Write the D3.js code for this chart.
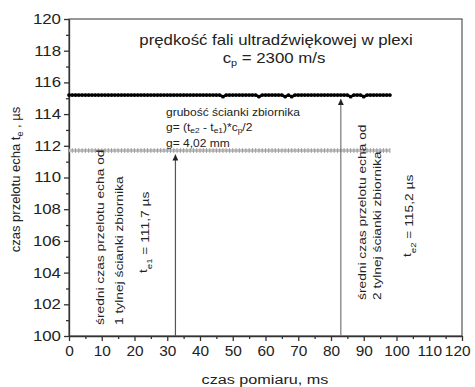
<!DOCTYPE html>
<html>
<head>
<meta charset="utf-8">
<script src="https://cdn.jsdelivr.net/npm/d3@7"></script>
<style>
  body { margin: 0; background: #fff; }
  svg { display: block; font-family: "Liberation Sans", Arial, sans-serif; }
</style>
</head>
<body>
<div id="chart"></div>
<script>
// ── Data ────────────────────────────────────────────────────────────────────
const timeMs = [
  0, 1, 2, 3, 4, 5, 6, 7, 8, 9, 10, 11, 12, 13, 14, 15, 16, 17, 18, 19,
  20, 21, 22, 23, 24, 25, 26, 27, 28, 29, 30, 31, 32, 33, 34, 35, 36, 37, 38, 39,
  40, 41, 42, 43, 44, 45, 46, 47, 48, 49, 50, 51, 52, 53, 54, 55, 56, 57, 58, 59,
  60, 61, 62, 63, 64, 65, 66, 67, 68, 69, 70, 71, 72, 73, 74, 75, 76, 77, 78, 79,
  80, 81, 82, 83, 84, 85, 86, 87, 88, 89, 90, 91, 92, 93, 94, 95, 96, 97, 98
];

// echo from 2nd back wall (t_e2), µs
const echo2 = [
  115.2, 115.2, 115.2, 115.2, 115.2, 115.2, 115.2, 115.2, 115.2, 115.2,
  115.2, 115.2, 115.2, 115.2, 115.2, 115.2, 115.2, 115.2, 115.2, 115.2,
  115.2, 115.2, 115.2, 115.2, 115.2, 115.2, 115.2, 115.2, 115.2, 115.2,
  115.2, 115.2, 115.2, 115.2, 115.2, 115.2, 115.2, 115.2, 115.2, 115.2,
  115.2, 115.2, 115.2, 115.2, 115.2, 115.2, 115.2, 115.1, 115.2, 115.2,
  115.2, 115.2, 115.2, 115.2, 115.2, 115.2, 115.2, 115.2, 115.1, 115.2,
  115.2, 115.2, 115.2, 115.2, 115.2, 115.2, 115.1, 115.2, 115.1, 115.2,
  115.2, 115.2, 115.2, 115.2, 115.2, 115.2, 115.2, 115.2, 115.2, 115.2,
  115.2, 115.2, 115.2, 115.2, 115.2, 115.2, 115.1, 115.2, 115.2, 115.2,
  115.1, 115.2, 115.2, 115.2, 115.2, 115.2, 115.2, 115.2, 115.2
];

// echo from 1st back wall (t_e1), µs
const echo1 = [
  111.7, 111.7, 111.7, 111.7, 111.7, 111.7, 111.7, 111.7, 111.7, 111.7,
  111.7, 111.7, 111.7, 111.7, 111.7, 111.7, 111.7, 111.7, 111.7, 111.7,
  111.7, 111.7, 111.7, 111.7, 111.7, 111.7, 111.7, 111.7, 111.7, 111.7,
  111.7, 111.7, 111.7, 111.7, 111.7, 111.7, 111.7, 111.7, 111.7, 111.7,
  111.7, 111.7, 111.7, 111.7, 111.7, 111.7, 111.7, 111.7, 111.7, 111.7,
  111.7, 111.7, 111.7, 111.7, 111.7, 111.7, 111.7, 111.7, 111.7, 111.7,
  111.7, 111.7, 111.7, 111.7, 111.7, 111.7, 111.7, 111.7, 111.7, 111.7,
  111.7, 111.7, 111.7, 111.7, 111.7, 111.7, 111.7, 111.7, 111.7, 111.7,
  111.7, 111.7, 111.7, 111.7, 111.7, 111.7, 111.7, 111.7, 111.7, 111.7,
  111.7, 111.7, 111.7, 111.7, 111.7, 111.7, 111.7, 111.7, 111.7
];

// arrows: [time, value the arrow points to]
const arrowEcho1 = [32.5, 111.7];
const arrowEcho2 = [83, 115.2];

const xTicks = [0, 10, 20, 30, 40, 50, 60, 70, 80, 90, 100, 110, 120];
const yTicks = [100, 102, 104, 106, 108, 110, 112, 114, 116, 118, 120];

// ── Layout ──────────────────────────────────────────────────────────────────
const width = 475, height = 387;
const margin = { top: 19, right: 13, bottom: 51, left: 69 };
const innerW = width - margin.left - margin.right;
const innerH = height - margin.top - margin.bottom;

// the original lettering is noticeably wider than Arial, so text is stretched sideways
const stretch = 1.2;
const xTickStretch = 1.1;

const svg = d3.select("#chart").append("svg").attr("width", width).attr("height", height);

const x = d3.scaleLinear().domain([0, 120]).range([margin.left, margin.left + innerW]);
const y = d3.scaleLinear().domain([100, 120]).range([margin.top + innerH, margin.top]);

const axisColor = "#333";
const textColor = "#222";

// ── Frame ───────────────────────────────────────────────────────────────────
svg.append("rect")
  .attr("x", x(0)).attr("y", y(120))
  .attr("width", x(120) - x(0)).attr("height", y(100) - y(120))
  .attr("fill", "none").attr("stroke", axisColor).attr("stroke-width", 1);

// ── Axes ────────────────────────────────────────────────────────────────────
function styleAxis(g, k) {
  g.select(".domain").attr("stroke", axisColor).attr("stroke-width", 1.3);
  g.selectAll(".tick line").attr("stroke", axisColor).attr("stroke-width", 1.3);
  g.selectAll(".tick text").attr("fill", textColor).attr("font-size", "14px")
    .attr("font-family", "Liberation Sans, Arial, sans-serif")
    .attr("transform", `scale(${k},1)`);
}

const xMinor = svg.append("g").attr("transform", `translate(0,${y(100)})`)
  .call(d3.axisBottom(x).tickValues(d3.range(5, 120, 10)).tickSize(3).tickFormat(""));
xMinor.select(".domain").remove();
xMinor.selectAll(".tick line").attr("stroke", axisColor).attr("stroke-width", 1.3);

const yMinor = svg.append("g").attr("transform", `translate(${x(0)},0)`)
  .call(d3.axisLeft(y).tickValues(d3.range(101, 120, 2)).tickSize(3).tickFormat(""));
yMinor.select(".domain").remove();
yMinor.selectAll(".tick line").attr("stroke", axisColor).attr("stroke-width", 1.3);

const xAxis = svg.append("g").attr("transform", `translate(0,${y(100)})`)
  .call(d3.axisBottom(x).tickValues(xTicks).tickSize(5).tickSizeOuter(0).tickPadding(5))
  .call(styleAxis, xTickStretch);

// last label sits flush with the right edge, as in the original
xAxis.selectAll(".tick text").filter(d => d === 120)
  .attr("text-anchor", "end").attr("x", 8 / xTickStretch);

svg.append("g").attr("transform", `translate(${x(0)},0)`)
  .call(d3.axisLeft(y).tickValues(yTicks).tickSize(5).tickSizeOuter(0).tickPadding(1.7))
  .call(styleAxis, stretch);

// text helper: anchor point (px, py), optional rotation, horizontal stretch
function stretchedText(px, py, size, anchor, rotate, k = stretch) {
  const rot = rotate ? ` rotate(${rotate})` : "";
  return svg.append("text")
    .attr("transform", `translate(${px},${py})${rot} scale(${k},1)`)
    .attr("text-anchor", anchor).attr("font-size", size).attr("fill", textColor);
}

// axis titles
stretchedText(265, 384, "13.5px", "middle").text("czas pomiaru, ms");

const yTitle = stretchedText(20, (y(100) + y(120)) / 2 + 2, "13px", "middle", -90, 1);
yTitle.append("tspan").text("czas przelotu echa t");
yTitle.append("tspan").attr("font-size", "9px").attr("dy", 3).text("e");
yTitle.append("tspan").attr("dy", -3).text(" , µs");

// ── Series ──────────────────────────────────────────────────────────────────
const echo1Points = timeMs.map((t, i) => [t, echo1[i]]);
const echo2Points = timeMs.map((t, i) => [t, echo2[i]]);

const line = d3.line().x(d => x(d[0])).y(d => y(d[1]));

// lower (grey, hatched) series
svg.append("path").datum(echo1Points)
  .attr("d", line).attr("fill", "none")
  .attr("stroke", "#c4c4c4").attr("stroke-width", 3);
svg.append("g").selectAll("line")
  .data(echo1Points).join("line")
  .attr("x1", d => x(d[0])).attr("x2", d => x(d[0]))
  .attr("y1", d => y(d[1]) - 2.5).attr("y2", d => y(d[1]) + 2.5)
  .attr("stroke", "#909090").attr("stroke-width", 0.8);

// upper (black) series
svg.append("path").datum(echo2Points)
  .attr("d", line).attr("fill", "none")
  .attr("stroke", "#000").attr("stroke-width", 2.5);
svg.append("g").selectAll("circle")
  .data(echo2Points).join("circle")
  .attr("cx", d => x(d[0])).attr("cy", d => y(d[1]))
  .attr("r", 1.9).attr("fill", "#000");

// ── Arrows ──────────────────────────────────────────────────────────────────
const defs = svg.append("defs");
defs.append("marker")
  .attr("id", "arrowHead")
  .attr("viewBox", "0 -4 8 8")
  .attr("refX", 8).attr("refY", 0)
  .attr("markerWidth", 7).attr("markerHeight", 6)
  .attr("markerUnits", "userSpaceOnUse")
  .attr("orient", "auto")
  .append("path").attr("d", "M0,-4L8,0L0,4Z").attr("fill", "#222");

function drawArrow([t, v], color) {
  svg.append("line")
    .attr("x1", x(t)).attr("y1", y(100))
    .attr("x2", x(t)).attr("y2", y(v) + 4)
    .attr("stroke", color).attr("stroke-width", 1.2)
    .attr("marker-end", "url(#arrowHead)");
}
drawArrow(arrowEcho1, "#555");
drawArrow(arrowEcho2, "#777");

// ── Annotations ─────────────────────────────────────────────────────────────
stretchedText(276, 45, "14px", "middle").text("prędkość fali ultradźwiękowej w plexi");

const cp = stretchedText(274, 63, "14px", "middle");
cp.append("tspan").text("c");
cp.append("tspan").attr("font-size", "9px").attr("dy", 3).text("p");
cp.append("tspan").attr("dy", -3).text(" = 2300 m/s");

const noteSize = "10px";
stretchedText(166, 116, noteSize, "start").text("grubość ścianki zbiornika");

const gFormula = stretchedText(166, 131, noteSize, "start");
gFormula.append("tspan").text("g= (t");
gFormula.append("tspan").attr("font-size", "7px").attr("dy", 2).text("e2");
gFormula.append("tspan").attr("dy", -2).text(" - t");
gFormula.append("tspan").attr("font-size", "7px").attr("dy", 2).text("e1");
gFormula.append("tspan").attr("dy", -2).text(")*c");
gFormula.append("tspan").attr("font-size", "7px").attr("dy", 2).text("p");
gFormula.append("tspan").attr("dy", -2).text("/2");

stretchedText(166, 147, noteSize, "start").text("g= 4,02 mm");

// vertical notes, centred on cx, reading upward from startY
function verticalNote(cx, startY, parts, size) {
  const t = stretchedText(cx, startY, size, "start", -90).attr("dy", "0.35em");
  parts.forEach(p => {
    const s = t.append("tspan").text(p.text);
    if (p.sub) s.attr("font-size", "8px").attr("dy", "0.6em");
    if (p.after) s.attr("dy", "-0.25em");
  });
  return t;
}

const vSize = "11.5px";
verticalNote(100, 325, [{ text: "średni czas przelotu echa od" }], vSize);
verticalNote(119, 325, [{ text: "1 tylnej ścianki zbiornika" }], vSize);
verticalNote(143, 273, [{ text: "t" }, { text: "e1", sub: true }, { text: " = 111,7 µs", after: true }], vSize);

verticalNote(362, 300, [{ text: "średni czas przelotu echa od" }], vSize);
verticalNote(377, 300, [{ text: "2 tylnej ścianki zbiornika" }], vSize);
verticalNote(407, 257, [{ text: "t" }, { text: "e2", sub: true }, { text: " = 115,2 µs", after: true }], vSize);
</script>
</body>
</html>
